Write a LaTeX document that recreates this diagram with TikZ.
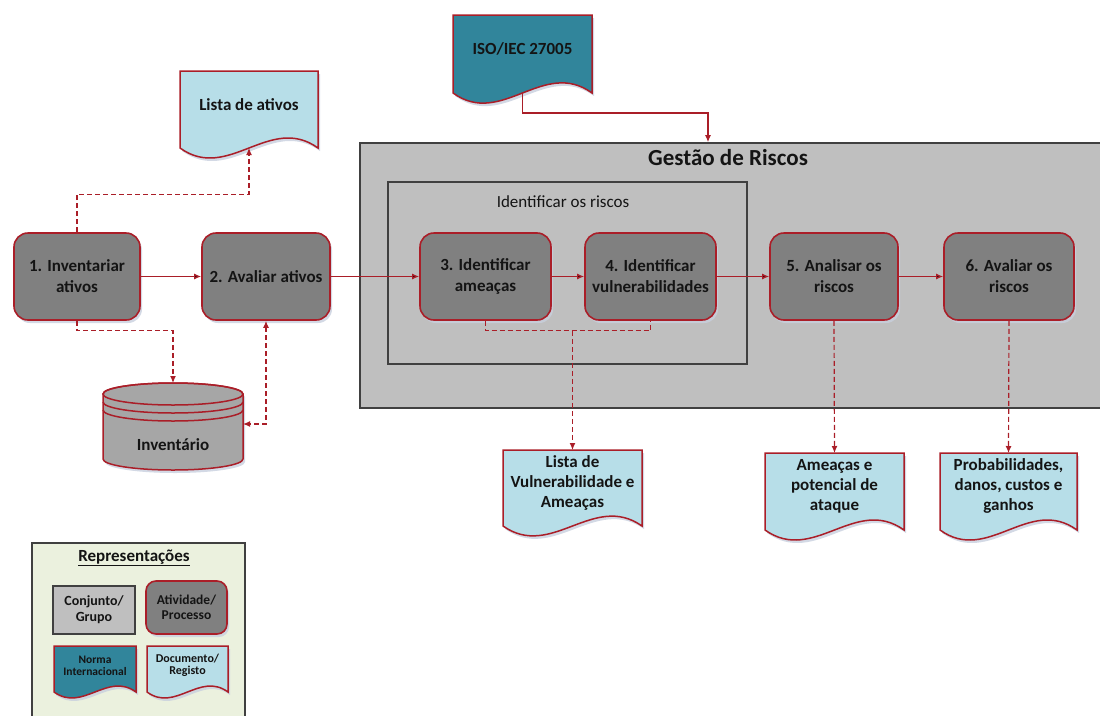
\documentclass[tikz,border=0pt]{standalone}
\usepackage{fontspec}
\setmainfont{Carlito}
\usetikzlibrary{arrows.meta,shadows}

\definecolor{riskred}{RGB}{170,30,40}
\definecolor{procgray}{RGB}{128,128,128}
\definecolor{groupgray}{RGB}{191,191,191}
\definecolor{invgray}{RGB}{166,166,166}
\definecolor{docblue}{RGB}{183,222,232}
\definecolor{isoteal}{RGB}{49,133,155}
\definecolor{legendgreen}{RGB}{235,241,222}
\definecolor{boxline}{RGB}{64,64,64}
\definecolor{textdark}{RGB}{20,20,20}
\definecolor{shadowblue}{RGB}{200,208,222}

\tikzset{
  proc/.style={shape=rectangle, rounded corners=14pt, draw=riskred, line width=1.6pt,
    fill=procgray, minimum width=128pt, minimum height=87pt, align=center, text=textdark,
    font=\bfseries\fontsize{17}{21}\selectfont,
    drop shadow={shadow xshift=2pt, shadow yshift=-3pt, fill=shadowblue, opacity=0.8}},
  groupbox/.style={shape=rectangle, draw=boxline, line width=1.6pt, fill=groupgray},
  docline/.style={draw=riskred, line width=1.5pt,
    drop shadow={shadow xshift=2pt, shadow yshift=-3pt, fill=shadowblue, opacity=0.8}},
  doctext/.style={align=center, text=textdark, font=\bfseries\fontsize{17}{20}\selectfont},
  flow/.style={draw=riskred, line width=1.2pt, -{Latex[length=7pt,width=6pt]}},
  dflow/.style={flow, dash pattern=on 5pt off 3pt},
  dline/.style={draw=riskred, line width=1.2pt, dash pattern=on 5pt off 3pt}
}

% document symbol: [node options]{name}{left}{top}{width}{height}{fill}{text}
\newcommand{\docnode}[8][]{%
  \draw[docline, fill=#7] (#3,#4) -- (#3+#5,#4) -- (#3+#5,#4+#6)
    .. controls +(-0.35*#5,-0.45*#6) and +(0.35*#5,0.45*#6) .. (#3,#4+#6) -- cycle;
  \coordinate (#2-top) at (#3+0.5*#5,#4);
  \coordinate (#2-bot) at (#3+0.5*#5,#4+#6);
  \node[doctext, #1] (#2) at (#3+0.5*#5,#4+0.43*#6) {#8};
}

\begin{document}
\begin{tikzpicture}[x=1pt, y=-1pt]
\useasboundingbox (0,0) rectangle (1100,715);
\clip (0,0) rectangle (1100,715);

% containers
\node[groupbox, minimum width=744pt, minimum height=265pt] (gestao) at (732,275.5) {};
\node[font=\bfseries\fontsize{23}{27}\selectfont, text=textdark] (gtitle) at (728,158) {Gestão de Riscos};
\node[shape=rectangle, draw=boxline, line width=1.5pt, minimum width=359pt, minimum height=182pt] (identificar) at (567.5,273) {};
\node[font=\fontsize{17}{21}\selectfont, text=textdark] (ititle) at (563,202) {Identificar os riscos};

% steps
\node[proc, minimum width=126pt] (1) at (77,276.5) {1. Inventariar\\ativos};
\node[proc] (2) at (266,276.5) {2. Avaliar ativos};
\node[proc, minimum width=131pt] (3) at (485.5,276.5) {3. Identificar\\ameaças};
\node[proc, minimum width=131pt] (4) at (650.5,276.5) {4. Identificar\\vulnerabilidades};
\node[proc] (5) at (834,276.5) {5. Analisar os\\riscos};
\node[proc, minimum width=130pt] (6) at (1009,276.5) {6. Avaliar os\\riscos};

% documents
\docnode{lista}{180}{71}{138}{77}{docblue}{Lista de ativos}
\docnode{iso}{453}{15}{139}{78}{isoteal}{ISO/IEC 27005}
\docnode{vuln}{503}{450}{139}{76}{docblue}{Lista de\\Vulnerabilidade e\\Ameaças}
\docnode{ameacas}{765}{453}{139}{77}{docblue}{Ameaças e\\potencial de\\ataque}
\docnode{prob}{940}{453}{137}{77}{docblue}{Probabilidades,\\danos, custos e\\ganhos}

% inventory store
\draw[docline, fill=invgray] (103,394) -- (103,459) arc[start angle=180, end angle=0, x radius=70, y radius=11]
  -- (243,394) arc[start angle=0, end angle=-180, x radius=70, y radius=11] -- cycle;
\draw[draw=riskred, line width=1.5pt] (173,394) ellipse[x radius=70, y radius=11];
\draw[draw=riskred, line width=1.5pt] (103,402) arc[start angle=180, end angle=0, x radius=70, y radius=11];
\draw[draw=riskred, line width=1.5pt] (103,410) arc[start angle=180, end angle=0, x radius=70, y radius=11];
\coordinate (inv-top) at (173,383);
\coordinate (inv-e) at (243,424);
\node[doctext] (inv) at (173,445) {Inventário};

% flow
\path[flow] (1) edge (2);
\path[flow] (2) edge (3);
\path[flow] (3) edge (4);
\path[flow] (4) edge (5);
\path[flow] (5) edge (6);
\draw[flow] (iso-bot) -- ++(0,20) -| ([xshift=-24pt]gestao.north);
\draw[dflow] (1.north) -- ++(0,-38) -| (lista-bot);
\draw[dflow] (1.south) -- ++(0,10) -| (inv-top);
\draw[dflow, {Latex[length=7pt,width=6pt]}-{Latex[length=7pt,width=6pt]}] (2.south) |- (inv-e);
\draw[dline] (3.south) -- ++(0,10) -| (4.south);
\draw[dflow] ([yshift=-10pt]3.south -| vuln-top) -- (vuln-top);
\draw[dflow] (5.south) -- (ameacas-top);
\draw[dflow] (6.south) -- (prob-top);

% legend
\node[shape=rectangle, draw=boxline, line width=1.2pt, fill=legendgreen, minimum width=213pt, minimum height=180pt] (legend) at (138.5,633) {};
\node[font=\bfseries\fontsize{17}{20}\selectfont, text=textdark] (lrep) at (134,558) {\underline{Representações}};
\node[groupbox, minimum width=82pt, minimum height=48pt, align=center, text=textdark, font=\bfseries\fontsize{14}{16}\selectfont] (lconj) at (94,610) {Conjunto/\\Grupo};
\node[proc, minimum width=81pt, minimum height=53pt, rounded corners=10pt, font=\bfseries\fontsize{13.5}{15}\selectfont] (lativ) at (186.5,607.5) {Atividade/\\Processo};
\docnode[font=\bfseries\fontsize{11.5}{12}\selectfont]{lnorma}{54}{646}{82}{46}{isoteal}{Norma\\Internacional}
\docnode[font=\bfseries\fontsize{12}{12}\selectfont]{ldoc}{147}{646}{81}{46}{docblue}{Documento/\\Registo}
\end{tikzpicture}
\end{document}
